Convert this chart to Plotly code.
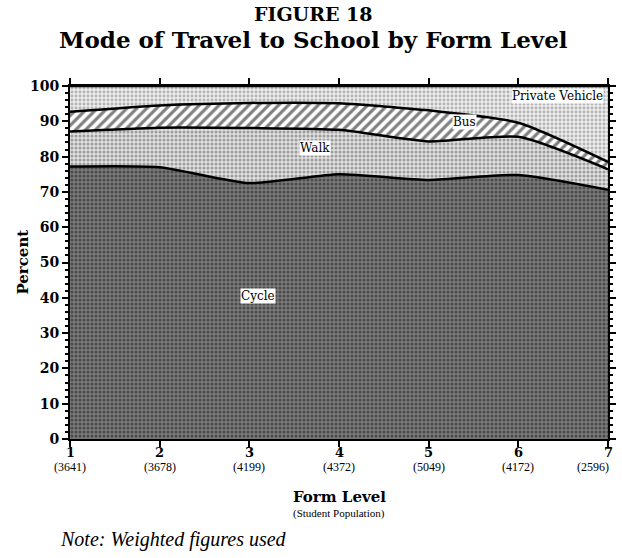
import plotly.graph_objects as go

form_level = [1, 2, 3, 4, 5, 6, 7]
population = [3641, 3678, 4199, 4372, 5049, 4172, 2596]

# percent shares (stacked bottom to top)
cycle = [77.2, 77.0, 72.5, 75.0, 73.4, 74.8, 70.6]
walk = [9.9, 11.2, 15.6, 12.6, 10.9, 10.8, 5.8]
bus = [5.6, 6.3, 7.1, 7.5, 8.8, 4.0, 2.1]
private_vehicle = [7.3, 5.5, 4.8, 4.9, 6.9, 10.4, 21.5]

SERIF = "Liberation Serif"
WIDE = "DejaVu Serif"

fig = go.Figure()

series = [
    ("Cycle", cycle, dict(shape=".", bgcolor="#7a7a7a", fgcolor="#1a1a1a", size=4, solidity=0.45)),
    ("Walk", walk, dict(shape=".", bgcolor="#e0e0e0", fgcolor="#555555", size=4, solidity=0.45)),
    ("Bus", bus, dict(shape="/", bgcolor="white", fgcolor="black", size=7, solidity=0.45)),
    ("Private Vehicle", private_vehicle, dict(shape=".", bgcolor="#ececec", fgcolor="#777777", size=4, solidity=0.4)),
]

for name, vals, pat in series:
    fig.add_trace(go.Scatter(
        x=form_level, y=vals, name=name,
        stackgroup="one", mode="lines",
        line=dict(color="black", width=2.5, shape="spline", smoothing=0.6),
        fillpattern=pat,
        showlegend=False,
    ))

# area labels
labels = [("Cycle", 3.1, 40.5), ("Walk", 3.73, 82.4), ("Bus", 5.4, 89.8)]
for text, x, y in labels:
    fig.add_annotation(x=x, y=y, text=text, showarrow=False, bgcolor="white",
                       font=dict(family=WIDE, size=12, color="black"), borderpad=0)
fig.add_annotation(x=7, y=97.3, text="Private Vehicle", showarrow=False, bgcolor="white",
                   xanchor="right", xshift=-4,
                   font=dict(family=WIDE, size=12, color="black"), borderpad=0)

# form level and student population under each tick
for f, p in zip(form_level, population):
    last = f == form_level[-1]
    fig.add_annotation(x=f, y=-0.037, xref="x", yref="paper", text=f"<b>{f}</b>",
                       showarrow=False, yanchor="middle",
                       font=dict(family=WIDE, size=13, color="black"))
    fig.add_annotation(x=f, y=-0.08, xref="x", yref="paper", text=f"({p})",
                       showarrow=False, yanchor="middle",
                       xanchor="right" if last else "center", xshift=3 if last else 0,
                       font=dict(family=SERIF, size=12, color="black"))

fig.update_xaxes(
    range=[1, 7], tickvals=form_level, showticklabels=False,
    showline=True, linecolor="black", linewidth=2, mirror="ticks",
    ticks="outside", ticklen=6, tickwidth=2, tickcolor="black",
    showgrid=False, zeroline=False,
)
fig.update_yaxes(
    range=[0, 100], dtick=10,
    showline=True, linecolor="black", linewidth=2, mirror="ticks",
    ticks="outside", ticklen=6, tickwidth=2, tickcolor="black",
    minor=dict(dtick=2, ticks="outside", ticklen=3, tickwidth=1.5, tickcolor="black"),
    showgrid=False, zeroline=False,
    tickfont=dict(family=WIDE, size=14, color="black"),
    tickprefix="<b>", ticksuffix="</b>",
)

fig.add_annotation(x=-0.089, y=0.5, xref="paper", yref="paper", text="<b>Percent</b>",
                   textangle=-90, showarrow=False, xanchor="center", yanchor="middle",
                   font=dict(family=WIDE, size=15, color="black"))
fig.add_annotation(x=0.5, y=-0.164, xref="paper", yref="paper", text="<b>Form Level</b>",
                   showarrow=False, yanchor="middle",
                   font=dict(family=WIDE, size=15, color="black"))
fig.add_annotation(x=0.5, y=-0.21, xref="paper", yref="paper", text="(Student Population)",
                   showarrow=False, yanchor="middle",
                   font=dict(family=SERIF, size=11, color="black"))
fig.add_annotation(x=-0.022, y=-0.284, xref="paper", yref="paper", text="<i>Note: Weighted figures used</i>",
                   showarrow=False, xanchor="left", yanchor="middle",
                   font=dict(family=SERIF, size=20, color="black"))

# two-line title, positions in pixels from top converted to plot-domain fractions
fig.add_annotation(x=(314 - 70) / 539, y=(439 - 14) / 353, xref="paper", yref="paper",
                   text="<b>FIGURE 18</b>", showarrow=False, yanchor="middle",
                   font=dict(family=WIDE, size=19, color="black"))
fig.add_annotation(x=(314 - 70) / 539, y=(439 - 40) / 353, xref="paper", yref="paper",
                   text="<b>Mode of Travel to School by Form Level</b>",
                   showarrow=False, yanchor="middle",
                   font=dict(family=WIDE, size=23, color="black"))

fig.update_layout(
    width=622, height=558,
    margin=dict(l=70, r=6, t=86, b=119),
    paper_bgcolor="white", plot_bgcolor="white",
)

fig.write_html("out.html", config={"displayModeBar": False},
               post_script="document.body.style.margin='0';")
